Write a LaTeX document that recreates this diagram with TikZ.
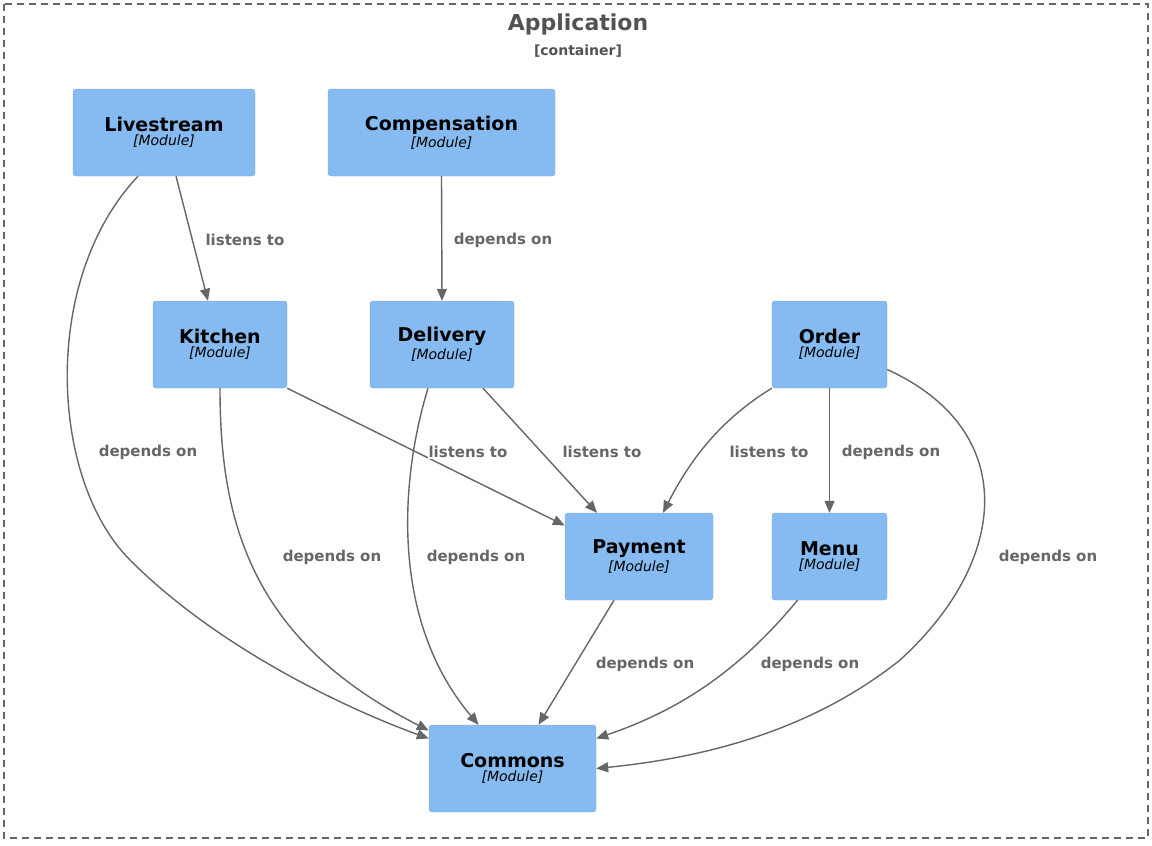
\documentclass[tikz,border=0pt]{standalone}
\usepackage{fontspec}
\setmainfont{DejaVu Sans}
\usetikzlibrary{arrows.meta,calc}
\definecolor{boxf}{HTML}{85BBF0}
\definecolor{boxd}{HTML}{78A8D8}
\definecolor{ln}{HTML}{666666}
\begin{document}
\begin{tikzpicture}[x=1pt,y=-1pt,
 mod/.style={draw=boxd,fill=boxf,rounded corners=3pt,inner sep=0pt,align=center},
 e/.style={draw=ln,line width=1.4pt,-{Triangle[length=12pt,width=10pt]}},
 lb/.style={text=ln,font=\fontsize{15}{18}\selectfont\bfseries,fill=white,inner sep=1pt}]
\useasboundingbox (0,0) rectangle (1152,846);
\draw[ln,dashed,line width=1.2pt,dash pattern=on 7pt off 5pt] (4,4) rectangle (1148,838);
\node[text=ln!80!black,font=\fontsize{22}{26}\selectfont\bfseries] (t) at (578,24) {Application};
\node[text=ln!80!black,font=\fontsize{14}{16}\selectfont\bfseries] (tc) at (578,51) {[container]};
\newcommand{\md}[6]{\node[mod,minimum width=#4pt,minimum height=87pt] (#1) at (#2,#3) {{\fontsize{19}{22}\selectfont\bfseries #5}\\[2pt]{\fontsize{14}{16}\selectfont\itshape [Module]}};}
\md{lv}{164}{132.5}{182}{Livestream}{}
\md{cp}{441.5}{132.5}{227}{Compensation}{}
\md{ki}{220}{344.5}{134}{Kitchen}{}
\md{de}{442}{344.5}{144}{Delivery}{}
\md{or}{829.5}{344.5}{115}{Order}{}
\md{pa}{639}{556.5}{148}{Payment}{}
\md{me}{829.5}{556.5}{115}{Menu}{}
\md{co}{512.5}{768.5}{167}{Commons}{}
% edges
\draw[e] ($(lv.south)+(12,0)$) -- ($(ki.north)+(-12,0)$);
\draw[e] ($(lv.south)+(-26,0)$) .. controls (40,280) and (50,480) .. (130,560) .. controls (220,650) and (350,710) .. ($(co.west)+(0,-30)$);
\draw[e] (cp.south) -- (de.north);
\draw[e] (ki.south east) -- ($(pa.west)+(0,-31)$);
\draw[e] ($(ki.south)+(0,0)$) .. controls (220,520) and (250,640) .. ($(co.west)+(0,-38)$);
\draw[e] ($(de.south)+(41,0)$) -- ($(pa.north)+(-42,0)$);
\draw[e] ($(de.south)+(-14,0)$) .. controls (400,480) and (390,620) .. ($(co.north)+(-34,0)$);
\draw[e] (or.south west) .. controls (720,420) and (690,460) .. ($(pa.north)+(24,0)$);
\draw[e] (or.south) -- (me.north);
\draw[e] ($(or.east)+(0,25)$) .. controls (1020,430) and (1010,560) .. (900,660) .. controls (800,740) and (680,760) .. ($(co.east)+(0,0)$);
\draw[e] ($(pa.south)+(-25,0)$) -- ($(co.north)+(26,0)$);
\draw[e] ($(me.south)+(-32,0)$) .. controls (740,670) and (680,710) .. ($(co.east)+(0,-30)$);
% labels
\node[lb] (l1) at (245,240) {listens to};
\node[lb] (l2) at (148,452) {depends on};
\node[lb] (l3) at (503,240) {depends on};
\node[lb] (l4) at (468,452) {listens to};
\node[lb] (l5) at (332,557) {depends on};
\node[lb] (l6) at (602,452) {listens to};
\node[lb] (l7) at (476,557) {depends on};
\node[lb] (l8) at (769,452) {listens to};
\node[lb] (l9) at (891,452) {depends on};
\node[lb] (l10) at (1048,557) {depends on};
\node[lb] (l11) at (645,664) {depends on};
\node[lb] (l12) at (810,664) {depends on};
\end{tikzpicture}
\end{document}
